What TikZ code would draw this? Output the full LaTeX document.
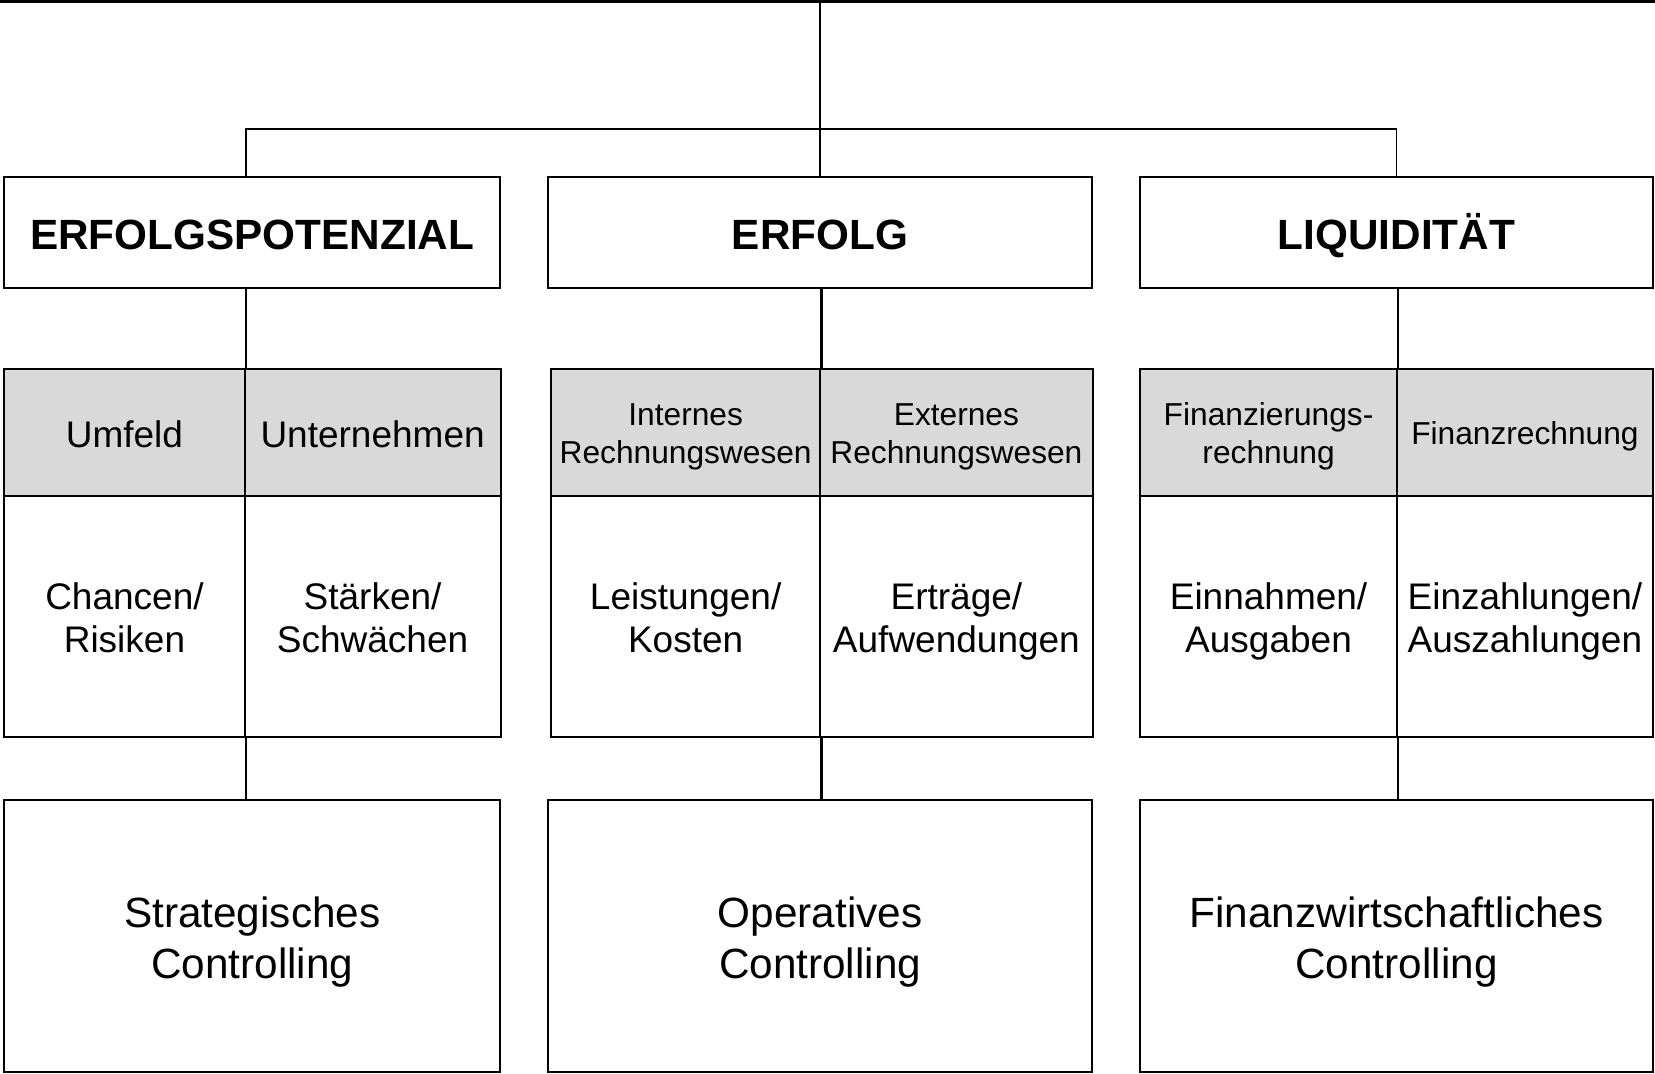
\documentclass[tikz,border=0pt]{standalone}
\usepackage{fontspec}
\setmainfont{Liberation Sans}
% one text line with a fixed cap height and no depth, so that every cell
% centres its lines the same way regardless of accents and descenders;
% \tdrop lowers the visible glyphs a little below the geometric centre
\newcommand{\tdrop}{2bp}
\newcommand{\tline}[1]{\vphantom{C}\smash{\raisebox{-\tdrop}{#1}}}
\definecolor{cellgray}{RGB}{217,217,217}
\begin{document}
\begin{tikzpicture}[x=1bp,y=-1bp,
  frame/.style={draw=black, line width=2bp, inner sep=0pt, align=center, fill=white},
  headbox/.style={frame, font=\bfseries\fontsize{42.3bp}{51bp}\selectfont},
  footbox/.style={frame, font=\renewcommand{\tdrop}{2.5bp}\fontsize{42.3bp}{51.6bp}\selectfont},
  headcell/.style={frame, fill=cellgray, font=\fontsize{37bp}{43bp}\selectfont},
  headcellsmall/.style={frame, fill=cellgray, font=\renewcommand{\tdrop}{1bp}\fontsize{31.7bp}{38bp}\selectfont},
  bodycell/.style={frame, font=\fontsize{37bp}{43.4bp}\selectfont},
  link/.style={line width=1.8bp},
  spine/.style={line width=2.6bp}]

\useasboundingbox (0,0) rectangle (1655,1073);

% top row: the three target areas
\node[headbox, minimum width=496.1bp, minimum height=111bp] (ep)  at (252.25,232.75) {\tline{ERFOLGSPOTENZIAL}};
\node[headbox, minimum width=544.6bp, minimum height=111bp] (erf) at (820.1,232.75)  {\tline{ERFOLG}};
\node[headbox, minimum width=513bp,   minimum height=111bp] (lq)  at (1396.5,232.75) {\tline{LIQUIDITÄT}};

% middle row: header cells
\node[headcell, minimum width=240.5bp, minimum height=126.9bp] (umf) at (124.45,432.65) {\tline{Umfeld}};
\node[headcell, minimum width=255.8bp, minimum height=126.9bp] (unt) at (372.6,432.65)  {\tline{Unternehmen}};
\node[headcellsmall, minimum width=269.3bp, minimum height=126.9bp] (intr) at (685.65,432.65) {\tline{Internes}\\\tline{Rechnungswesen}};
\node[headcellsmall, minimum width=272.2bp, minimum height=126.9bp] (extr) at (956.4,432.65)  {\tline{Externes}\\\tline{Rechnungswesen}};
\node[headcellsmall, minimum width=256.5bp, minimum height=126.9bp] (fzr)  at (1268.55,432.65) {\tline{Finanzierungs-}\\\tline{rechnung}};
\node[headcellsmall, minimum width=256.2bp, minimum height=126.9bp] (fr)   at (1524.9,432.65)  {\tline{Finanzrechnung}};

% middle row: body cells
\node[bodycell, minimum width=240.5bp, minimum height=240.6bp] (chan)   at (124.45,616.4) {\tline{Chancen/}\\\tline{Risiken}};
\node[bodycell, minimum width=255.8bp, minimum height=240.6bp] (staerk) at (372.6,616.4)  {\tline{Stärken/}\\\tline{Schwächen}};
\node[bodycell, minimum width=269.3bp, minimum height=240.6bp] (leist)  at (685.65,616.4) {\tline{Leistungen/}\\\tline{Kosten}};
\node[bodycell, minimum width=272.2bp, minimum height=240.6bp] (ertr)   at (956.4,616.4)  {\tline{Erträge/}\\\tline{Aufwendungen}};
\node[bodycell, minimum width=256.5bp, minimum height=240.6bp] (einn)   at (1268.55,616.4) {\tline{Einnahmen/}\\\tline{Ausgaben}};
\node[bodycell, minimum width=256.2bp, minimum height=240.6bp] (einz)   at (1524.9,616.4)  {\tline{Einzahlungen/}\\\tline{Auszahlungen}};

% bottom row: controlling types
\node[footbox, minimum width=496.1bp, minimum height=271.5bp] (sc) at (252.25,935.75) {\tline{Strategisches}\\\tline{Controlling}};
\node[footbox, minimum width=544.6bp, minimum height=271.5bp] (oc) at (820.1,935.75)  {\tline{Operatives}\\\tline{Controlling}};
\node[footbox, minimum width=513bp,   minimum height=271.5bp] (fc) at (1396.5,935.75) {\tline{Finanzwirtschaftliches}\\\tline{Controlling}};

% top rule and branching
\coordinate (topL) at (0,1.3);
\coordinate (topR) at (1655,1.3);
\draw[line width=3bp] (topL) -- (topR);
\coordinate (topC) at (erf.north |- topL);
\draw[spine] (topC) -- (erf.north);
\coordinate (brk) at (820.1,128.8);
\coordinate (epT) at (umf.north east |- ep.north);
\draw[link] (epT) |- (brk) -| (lq.north);

% links from the target areas to the tables
\draw[link]  (umf.north east |- ep.south) -- (umf.north east);
\draw[spine] (intr.north east |- erf.south) -- (intr.north east);
\draw[link]  (fzr.north east |- lq.south) -- (fzr.north east);

% links from the tables to the controlling boxes
\draw[link]  (chan.south east) -- (chan.south east |- sc.north);
\draw[spine] (leist.south east) -- (leist.south east |- oc.north);
\draw[link]  (einn.south east) -- (einn.south east |- fc.north);
\end{tikzpicture}
\end{document}
